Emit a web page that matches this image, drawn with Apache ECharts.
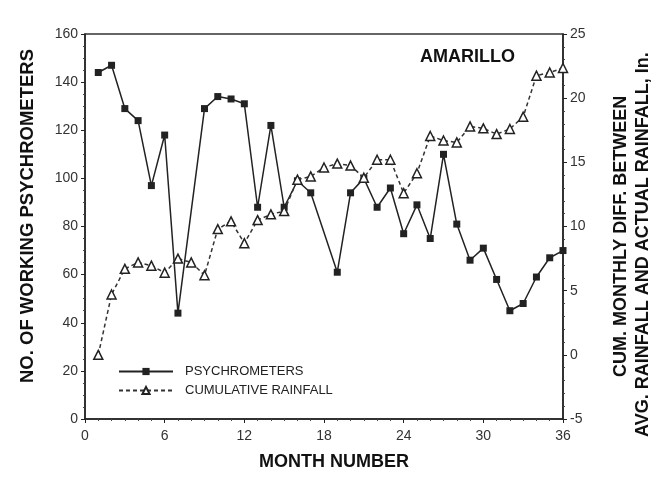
<!DOCTYPE html>
<html>
<head>
<meta charset="utf-8">
<script src="https://cdn.jsdelivr.net/npm/echarts@6/dist/echarts.min.js"></script>
<style>html,body{margin:0;padding:0;background:#fff}#c{width:655px;height:491px}</style>
</head>
<body>
<div id="c"></div>
<script>
var months = [1,2,3,4,5,6,7,8,9,10,11,12,13,14,15,16,17,18,19,20,21,22,23,24,25,26,27,28,29,30,31,32,33,34,35,36];
var psychrometers = [144,147,129,124,97,118,44,null,129,134,133,131,88,122,88,99,94,null,61,94,100,88,96,77,89,75,110,81,66,71,58,45,48,59,67,70];
var cumRainfall = [0,4.7,6.7,7.2,6.95,6.4,7.5,7.2,6.2,9.8,10.4,8.7,10.5,10.95,11.2,13.65,13.9,14.6,14.9,14.75,13.8,15.2,15.2,12.6,14.15,17.05,16.7,16.55,17.8,17.65,17.2,17.6,18.55,21.75,22.0,22.35];
var xTicks = [0,6,12,18,24,30,36];
var leftTicks = [0,20,40,60,80,100,120,140,160];
var rightTicks = [-5,0,5,10,15,20,25];

var psychData = [];
var rainData = [];
for (var i = 0; i < months.length; i++) {
  if (psychrometers[i] !== null) psychData.push([months[i], psychrometers[i]]);
  rainData.push([months[i], cumRainfall[i]]);
}

var font = 'Liberation Sans, Arial, Helvetica, sans-serif';
var axisLine = {show: true, onZero: false, lineStyle: {color: '#222', width: 1.5}};
var labelStyle = {color: '#333', fontSize: 14, fontFamily: font};

var chart = echarts.init(document.getElementById('c'), null, {renderer: 'canvas'});
chart.setOption({
  animation: false,
  backgroundColor: '#fff',
  grid: {left: 85, right: 92, top: 34, bottom: 72, show: true, borderColor: '#333', borderWidth: 1.5},
  legend: {
    orient: 'vertical', left: 113, top: 360, itemWidth: 54, itemHeight: 9, itemGap: 6,
    textStyle: {fontFamily: font, fontSize: 13, color: '#222', padding: [0,0,0,7]},
    data: ['PSYCHROMETERS', 'CUMULATIVE RAINFALL']
  },
  xAxis: {
    type: 'value', min: xTicks[0], max: xTicks[xTicks.length-1], interval: 6,
    axisLine: axisLine,
    axisTick: {show: true, length: 4, inside: false, lineStyle: {color: '#222'}},
    minorTick: {show: true, splitNumber: 6, length: 2, lineStyle: {color: '#444'}},
    splitLine: {show: false},
    axisLabel: Object.assign({margin: 10}, labelStyle)
  },
  yAxis: [{
    type: 'value', min: leftTicks[0], max: leftTicks[leftTicks.length-1], interval: 20,
    axisLine: axisLine,
    axisTick: {show: true, length: 4, lineStyle: {color: '#222'}},
    minorTick: {show: true, splitNumber: 4, length: 2, lineStyle: {color: '#444'}},
    splitLine: {show: false},
    axisLabel: Object.assign({margin: 7}, labelStyle)
  }, {
    type: 'value', min: rightTicks[0], max: rightTicks[rightTicks.length-1], interval: 5,
    position: 'right',
    axisLine: axisLine,
    axisTick: {show: true, length: 4, lineStyle: {color: '#222'}},
    minorTick: {show: true, splitNumber: 5, length: 2, lineStyle: {color: '#444'}},
    splitLine: {show: false},
    axisLabel: Object.assign({margin: 7}, labelStyle)
  }],
  series: [{
    name: 'PSYCHROMETERS', type: 'line', yAxisIndex: 0, data: psychData,
    symbol: 'rect', symbolSize: 7, showAllSymbol: true,
    lineStyle: {color: '#222', width: 1.5},
    itemStyle: {color: '#222'},
    z: 3
  }, {
    name: 'CUMULATIVE RAINFALL', type: 'line', yAxisIndex: 1, data: rainData,
    symbol: 'triangle', symbolSize: 9, showAllSymbol: true,
    lineStyle: {color: '#333', width: 1.5, type: [4, 3]},
    itemStyle: {color: '#fff', borderColor: '#222', borderWidth: 1.5},
    z: 4
  }],
  graphic: [
    {type: 'text', left: 420, top: 48, style: {text: 'AMARILLO', font: 'bold 18px ' + font, fill: '#111'}},
    {type: 'text', x: 334, y: 462, style: {text: 'MONTH NUMBER', font: 'bold 18px ' + font, fill: '#111', textAlign: 'center', textVerticalAlign: 'middle'}},
    {type: 'text', x: 28, y: 383, rotation: Math.PI/2, style: {text: 'NO. OF WORKING PSYCHROMETERS', font: 'bold 18.5px ' + font, fill: '#111', textAlign: 'left', textVerticalAlign: 'middle'}},
    {type: 'text', x: 621, y: 377, rotation: Math.PI/2, style: {text: 'CUM. MONTHLY DIFF. BETWEEN', font: 'bold 18px ' + font, fill: '#111', textAlign: 'left', textVerticalAlign: 'middle'}},
    {type: 'text', x: 643, y: 437, rotation: Math.PI/2, style: {text: 'AVG. RAINFALL AND ACTUAL RAINFALL, In.', font: 'bold 18px ' + font, fill: '#111', textAlign: 'left', textVerticalAlign: 'middle'}}
  ]
});
</script>
</body>
</html>
